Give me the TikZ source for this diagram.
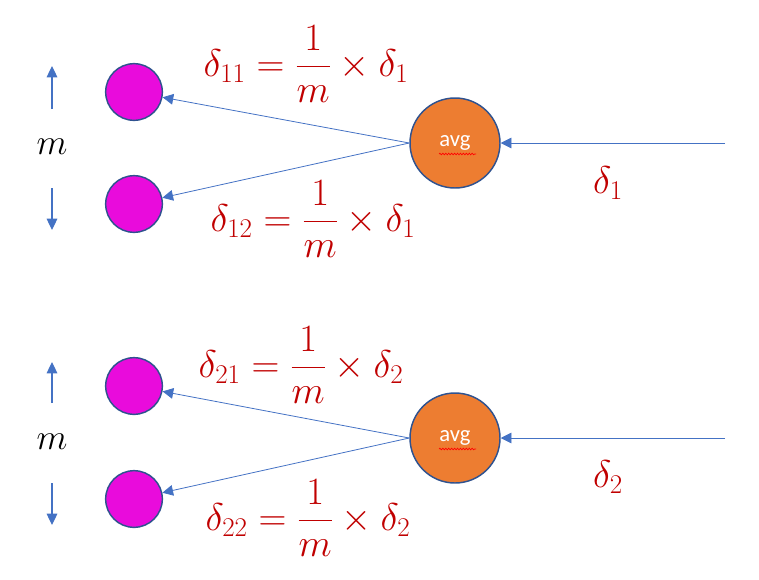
\RequirePackage{fix-cm}
\documentclass[tikz,border=0pt]{standalone}
\usepackage{amsmath}
\usepackage{fontspec}
\newfontfamily\avgfont{Carlito}
\usepackage{tikz}
\usetikzlibrary{
    arrows.meta,
    decorations.pathmorphing
}
\definecolor{linkblue}{HTML}{4472C4}
\definecolor{rimblue}{HTML}{2F528F}
\definecolor{avgorange}{HTML}{ED7D31}
\definecolor{unitmagenta}{HTML}{E90BDC}
\definecolor{labelred}{HTML}{C00000}
\tikzset
{
  avgnode/.style={circle,draw=rimblue,line width=1.1pt,fill=avgorange,minimum size=67.5pt,inner sep=0pt,text=white,font=\avgfont\fontsize{17}{19}\selectfont},
  unitnode/.style={circle,draw=rimblue,line width=1.1pt,fill=unitmagenta,minimum size=42.5pt,inner sep=0pt},
  link/.style={draw=linkblue,line width=0.6pt,-{Triangle[length=8pt,width=8pt]}},
  countarrow/.style={draw=linkblue,line width=0.9pt,-{Triangle[length=8.5pt,width=8pt]}},
  deltalabel/.style={text=labelred,font=\fontsize{29}{35}\selectfont},
  countlabel/.style={font=\fontsize{27}{32}\selectfont},
  spellmark/.style={draw=red,line width=0.5pt,decorate,decoration={snake,amplitude=0.6pt,segment length=2.2pt}}
}

\begin{document}
\begin{tikzpicture}[x=0.75pt,y=-0.75pt]
        \useasboundingbox (0,0) rectangle (759,579);

        % First layer: delta_1 split over m units
        \node[avgnode] (avgA) at (455,143) {avg};
        \draw[spellmark] ([shift={(-16,11)}]avgA.center) -- ([shift={(21,11)}]avgA.center);
        \node[unitnode] (unitA1) at (134,92) {};
        \node[unitnode] (unitA2) at (134,204) {};
        \coordinate (inA) at (725,143);
        \draw[link] (inA) -- (avgA);
        \draw[link] (avgA.west) -- (unitA1);
        \draw[link] (avgA.west) -- (unitA2);

        % First layer labels
        \node[deltalabel] (dA1) at (306,64) {$\delta_{11}=\dfrac{1}{m}\times\delta_1$};
        \node[deltalabel] (dA2) at (313,219) {$\delta_{12}=\dfrac{1}{m}\times\delta_1$};
        \node[deltalabel] (dA) at (608,183) {$\delta_1$};

        % First layer count m
        \node[countlabel] (mA) at (52,147) {$m$};
        \coordinate (upA0) at (52,109);
        \coordinate (upA1) at (52,66);
        \coordinate (downA0) at (52,188);
        \coordinate (downA1) at (52,230);
        \draw[countarrow] (upA0) -- (upA1);
        \draw[countarrow] (downA0) -- (downA1);

        % Second layer: delta_2 split over m units
        \node[avgnode] (avgB) at (455,438) {avg};
        \draw[spellmark] ([shift={(-16,11)}]avgB.center) -- ([shift={(21,11)}]avgB.center);
        \node[unitnode] (unitB1) at (134,386) {};
        \node[unitnode] (unitB2) at (134,499) {};
        \coordinate (inB) at (725,438);
        \draw[link] (inB) -- (avgB);
        \draw[link] (avgB.west) -- (unitB1);
        \draw[link] (avgB.west) -- (unitB2);

        % Second layer labels
        \node[deltalabel] (dB1) at (301,365) {$\delta_{21}=\dfrac{1}{m}\times\delta_2$};
        \node[deltalabel] (dB2) at (308,518) {$\delta_{22}=\dfrac{1}{m}\times\delta_2$};
        \node[deltalabel] (dB) at (608,477) {$\delta_2$};

        % Second layer count m
        \node[countlabel] (mB) at (52,442) {$m$};
        \coordinate (upB0) at (52,403);
        \coordinate (upB1) at (52,362);
        \coordinate (downB0) at (52,483);
        \coordinate (downB1) at (52,525);
        \draw[countarrow] (upB0) -- (upB1);
        \draw[countarrow] (downB0) -- (downB1);
    \end{tikzpicture}
\end{document}
